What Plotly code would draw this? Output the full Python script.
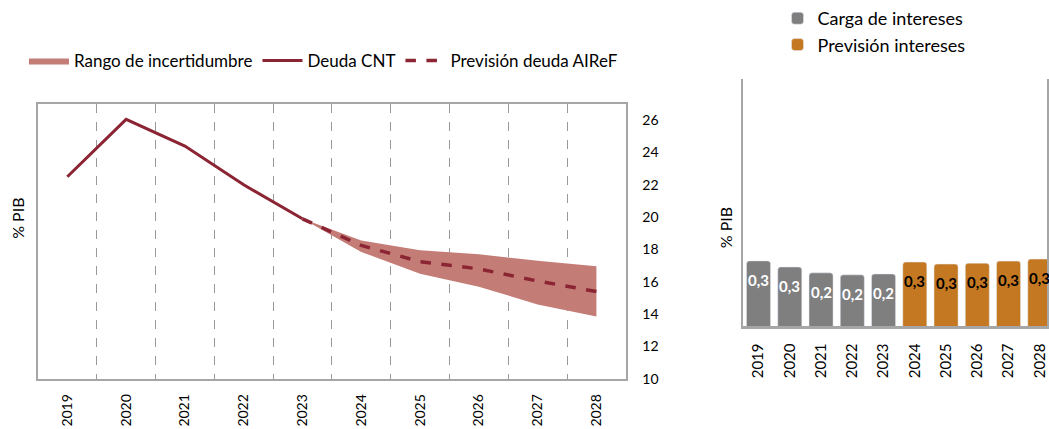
import plotly.graph_objects as go

years = ["2019", "2020", "2021", "2022", "2023", "2024", "2025", "2026", "2027", "2028"]
deuda_cnt = [22.5, 26.05, 24.4, 22.0, 19.9]
cnt_years = years[:5]
prev_years = years[4:]
prevision = [19.9, 18.25, 17.25, 16.8, 16.05, 15.4]
rango_sup = [19.9, 18.55, 17.95, 17.7, 17.3, 16.97]
rango_inf = [19.9, 17.85, 16.5, 15.7, 14.6, 13.85]

int_hist_years = years[:5]
int_hist = [0.291, 0.264, 0.238, 0.229, 0.233]
int_prev_years = years[5:]
int_prev = [0.286, 0.277, 0.281, 0.29, 0.299]

FONT = "Lato"
LINE = "#8B2433"
BAND = "#C47C76"
GREY = "#7F7F7F"
ORANGE = "#C57822"
AX = "#A6A6A6"

fig = go.Figure()

fig.add_trace(go.Scatter(x=prev_years, y=rango_inf, mode="lines", line=dict(width=0, color=BAND),
                         showlegend=False, hoverinfo="skip", xaxis="x", yaxis="y"))
fig.add_trace(go.Scatter(x=prev_years, y=rango_sup, mode="lines", line=dict(width=0, color=BAND),
                         fill="tonexty", fillcolor=BAND, name="Rango de incertidumbre",
                         legend="legend", xaxis="x", yaxis="y"))
fig.add_trace(go.Scatter(x=cnt_years, y=deuda_cnt, mode="lines", line=dict(width=3, color=LINE),
                         name="Deuda CNT", legend="legend", xaxis="x", yaxis="y"))
fig.add_trace(go.Scatter(x=prev_years, y=prevision, mode="lines",
                         line=dict(width=3.5, color=LINE, dash="dash"),
                         name="Previsión deuda AIReF", legend="legend", xaxis="x", yaxis="y"))

fig.add_trace(go.Bar(x=int_hist_years, y=int_hist, marker=dict(color=GREY),
                     name="Carga de intereses", legend="legend2", legendgroup="a",
                     xaxis="x2", yaxis="y2"))
fig.add_trace(go.Bar(x=int_prev_years, y=int_prev, marker=dict(color=ORANGE),
                     name="Previsión intereses", legend="legend2", legendgroup="b",
                     xaxis="x2", yaxis="y2"))

annotations = []
for xs, ys, col in [(int_hist_years, int_hist, "white"), (int_prev_years, int_prev, "black")]:
    for xv, yv in zip(xs, ys):
        annotations.append(dict(x=years.index(xv), y=yv, xref="x2", yref="y2",
                                text=f"<b>{yv:.1f}</b>".replace(".", ","),
                                showarrow=False, yanchor="middle", xanchor="center", yshift=-19,
                                font=dict(family=FONT, size=15, color=col)))

annotations.append(dict(x=18 / 1049, y=1 - 222 / 429, xref="paper", yref="paper", text="% PIB",
                        textangle=-90, showarrow=False, xanchor="center", yanchor="middle",
                        font=dict(family=FONT, size=16, color="black")))
annotations.append(dict(x=727 / 1049, y=1 - 232 / 429, xref="paper", yref="paper", text="% PIB",
                        textangle=-90, showarrow=False, xanchor="center", yanchor="middle",
                        font=dict(family=FONT, size=16, color="black")))

fig.update_layout(
    width=1049, height=429,
    margin=dict(l=0, r=0, t=0, b=0),
    paper_bgcolor="white", plot_bgcolor="white",
    font=dict(family=FONT, size=14, color="black"),
    barmode="group", bargap=0.23, barcornerradius=3,
    xaxis=dict(domain=[38 / 1049, 627 / 1049], anchor="y", type="category", range=[-0.5, 9.5],
               categoryorder="array", categoryarray=years,
               tickson="boundaries", showgrid=True, griddash="dash", gridcolor="#999999", gridwidth=1,
               showline=True, mirror=True, linecolor=AX, linewidth=1.5, ticks="",
               tickangle=-90, tickfont=dict(size=14), ticklabelstandoff=8),
    yaxis=dict(domain=[1 - 386 / 429, 1 - 106 / 429], anchor="x", side="right", range=[10, 27],
               tickvals=[10, 12, 14, 16, 18, 20, 22, 24, 26], showgrid=False, zeroline=False,
               showline=True, mirror=True, linecolor=AX, linewidth=1.5, ticks="",
               tickfont=dict(size=14), ticklabelstandoff=12),
    xaxis2=dict(domain=[744 / 1049, 1.0], anchor="y2", type="category", range=[-0.51, 9.23],
                categoryorder="array", categoryarray=years, ticklabeloverflow="allow",
                showgrid=False, showline=True, linecolor=AX, linewidth=3, ticks="",
                tickangle=-90, tickfont=dict(size=15), ticklabelstandoff=8),
    yaxis2=dict(domain=[1 - 332.7 / 429, 1 - 80 / 429], anchor="x2", range=[0, 1.1],
                showgrid=False, zeroline=False, showticklabels=False, ticks="",
                showline=True, mirror=True, linecolor=AX, linewidth=1.5),
    legend=dict(orientation="h", x=24 / 1049, y=1 - 62 / 429, xanchor="left", yanchor="middle",
                font=dict(size=17), bgcolor="rgba(0,0,0,0)", itemwidth=40, tracegroupgap=0,
                traceorder="normal"),
    legend2=dict(orientation="v", x=779 / 1049, y=1.0, xanchor="left", yanchor="top",
                 font=dict(size=18), bgcolor="rgba(0,0,0,0)", tracegroupgap=10, itemwidth=30,
                 traceorder="normal"),
    annotations=annotations,
)

fig.write_html("out.html", config={"displayModeBar": False},
               post_script="document.body.style.margin='0';")
